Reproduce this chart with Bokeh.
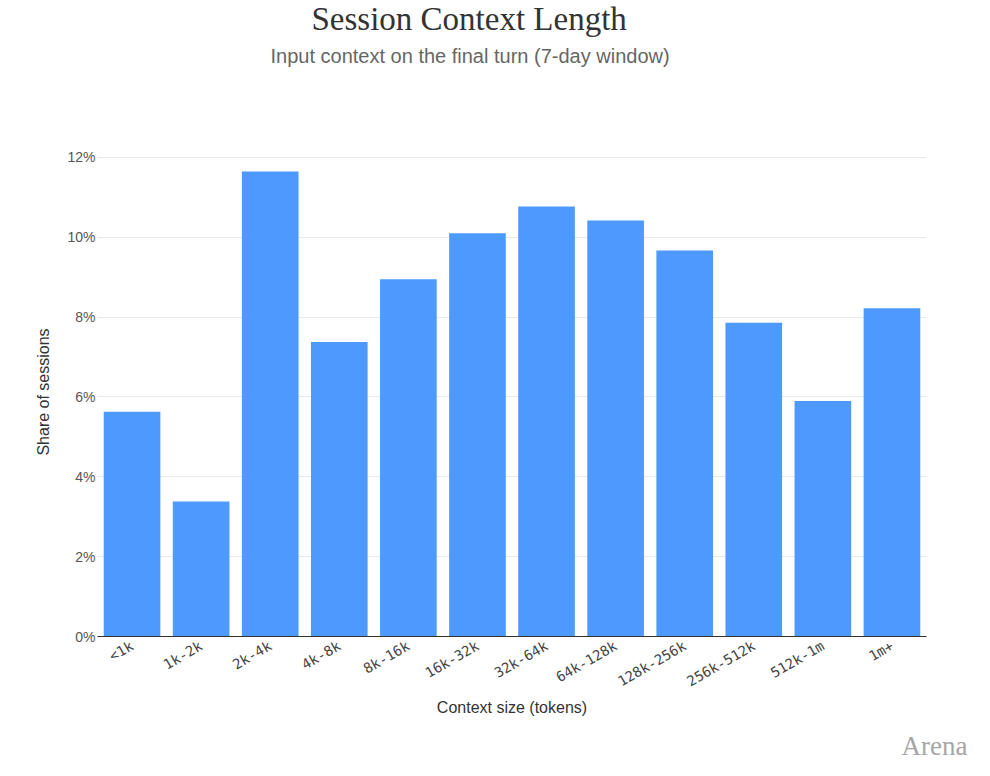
from math import pi
from bokeh.plotting import figure
from bokeh.models import Title, PrintfTickFormatter, FixedTicker, Range1d
from bokeh.embed import file_html
from bokeh.resources import INLINE

# ---- data ----
categories = ["<1k", "1k-2k", "2k-4k", "4k-8k", "8k-16k", "16k-32k",
              "32k-64k", "64k-128k", "128k-256k", "256k-512k", "512k-1m", "1m+"]
share_pct = [5.63, 3.38, 11.65, 7.38, 8.95, 10.10,
             10.77, 10.42, 9.67, 7.86, 5.90, 8.22]
y_ticks = [0, 2, 4, 6, 8, 10, 12]

TITLE = "Session Context Length"
SUBTITLE = "Input context on the final turn (7-day window)"
X_LABEL = "Context size (tokens)"
Y_LABEL = "Share of sessions"
LOGO = "Arena"

p = figure(x_range=categories, y_range=Range1d(0, 12.25),
           width=974, height=760, output_backend="svg", toolbar_location=None,
           title=None, min_border_left=97, min_border_right=48,
           min_border_top=0, min_border_bottom=0)
p.background_fill_color = "white"
p.border_fill_color = "white"
p.outline_line_color = None

p.vbar(x=categories, top=share_pct, width=0.82, color="#4d99fd", line_color=None)

# grid
p.xgrid.grid_line_color = None
p.ygrid.ticker = FixedTicker(ticks=y_ticks)
p.ygrid.grid_line_color = "#e9e9e9"
p.ygrid.grid_line_width = 1

# y axis
ya = p.yaxis[0]
ya.ticker = FixedTicker(ticks=y_ticks)
ya.formatter = PrintfTickFormatter(format="%d%%")
ya.axis_line_color = None
ya.major_tick_line_color = None
ya.major_tick_out = 0
ya.major_tick_in = 0
ya.minor_tick_line_color = None
ya.major_label_standoff = 2
ya.major_label_text_font = "Liberation Sans"
ya.major_label_text_font_size = "14px"
ya.major_label_text_color = "#555555"
ya.axis_label = Y_LABEL
ya.axis_label_text_font = "Liberation Sans"
ya.axis_label_text_font_size = "16px"
ya.axis_label_text_font_style = "normal"
ya.axis_label_text_color = "#333333"
ya.axis_label_standoff = 12

# x axis
xa = p.xaxis[0]
xa.axis_line_color = "#333333"
xa.axis_line_width = 1.2
xa.major_tick_line_color = None
xa.major_tick_out = 0
xa.major_tick_in = 0
xa.minor_tick_line_color = None
xa.major_label_orientation = pi / 6
xa.major_label_standoff = 8
xa.major_label_text_font = "DejaVu Sans Mono"
xa.major_label_text_font_size = "14px"
xa.major_label_text_color = "#444444"
xa.axis_label = X_LABEL
xa.axis_label_text_font = "Liberation Sans"
xa.axis_label_text_font_size = "16px"
xa.axis_label_text_font_style = "normal"
xa.axis_label_text_color = "#333333"
xa.axis_label_standoff = 0

# titles: spacer first (nearest the plot), then subtitle, then main title on top
spacer = Title(text=" ", standoff=69, text_font_size="1px")
sub = Title(text=SUBTITLE, align="left", offset=173, standoff=17,
            text_font="Liberation Sans", text_font_size="20px",
            text_font_style="normal", text_color="#666666")
main = Title(text=TITLE, align="left", offset=214, standoff=-4,
             text_font="Liberation Serif", text_font_size="33px",
             text_font_style="normal", text_color="#333333")
p.add_layout(spacer, "above")
p.add_layout(sub, "above")
p.add_layout(main, "above")

# bottom: small spacer under the x axis, then the logo at the very bottom
bottom_spacer = Title(text=" ", standoff=6, text_font_size="1px")
logo = Title(text=LOGO, align="right", offset=-41, standoff=0,
             text_font="Liberation Serif", text_font_size="27px",
             text_font_style="normal", text_color="#a6a6a6")
p.add_layout(bottom_spacer, "below")
p.add_layout(logo, "below")

open("out.html", "w").write(file_html(p, INLINE))
